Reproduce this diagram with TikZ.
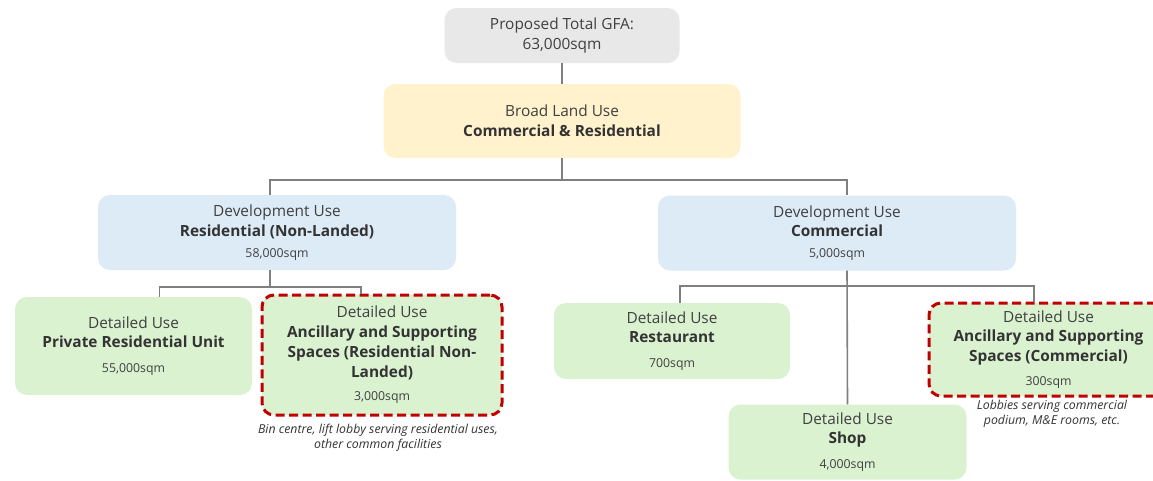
\documentclass[tikz,border=0pt]{standalone}
\usepackage{fontspec}
\setmainfont{Open Sans}
\usetikzlibrary{calc}
\definecolor{txt}{HTML}{404040}
\definecolor{boldtxt}{HTML}{333333}
\definecolor{gfagray}{HTML}{E8E8E8}
\definecolor{broadyellow}{HTML}{FFF2CC}
\definecolor{devblue}{HTML}{DDEBF7}
\definecolor{detgreen}{HTML}{DAF2D0}
\definecolor{linkgray}{HTML}{7F7F7F}
\definecolor{flagred}{HTML}{C00000}
\newcommand\amt[1]{{\fontsize{12.3}{15}\selectfont #1}}
\newcommand\hd[1]{{\bfseries\color{boldtxt}#1}}
\begin{document}
\begin{tikzpicture}[x=1pt,y=-1pt,
  box/.style={rounded corners=12pt, inner sep=0pt, align=center, text=txt,
    font=\fontsize{15.4}{19.8}\selectfont},
  flagged/.style={draw=flagred, line width=3pt, dash pattern=on 9pt off 4.5pt},
  link/.style={draw=linkgray, line width=1.6pt},
  note/.style={align=center, text=boldtxt, inner sep=0pt,
    font=\fontsize{12.3}{15}\selectfont\itshape}]
\clip (0,0) rectangle (1153,480);
\fill[white] (0,0) rectangle (1153,480);

% top levels
\node[box, fill=gfagray, minimum width=235pt, minimum height=55pt] (gfa)
  at (562,35.5) {Proposed Total GFA:\\63,000sqm};
\node[box, fill=broadyellow, minimum width=357pt, minimum height=74pt] (broad)
  at (562,121) {Broad Land Use\\\hd{Commercial \& Residential}};

% development uses
\node[box, fill=devblue, minimum width=358pt, minimum height=75pt] (devres)
  at (277,232.5) {Development Use\\\hd{Residential (Non-Landed)}\\[1pt]\amt{58,000sqm}};
\node[box, fill=devblue, minimum width=358pt, minimum height=75pt] (devcom)
  at (837,233) {Development Use\\\hd{Commercial}\\[1pt]\amt{5,000sqm}};

% detailed uses (residential)
\node[box, fill=detgreen, minimum width=237pt, minimum height=98pt] (private)
  at (133.5,346) {Detailed Use\\\hd{Private Residential Unit}\\[5pt]\amt{55,000sqm}};
\node[box, fill=detgreen, flagged, minimum width=240pt, minimum height=120pt] (ancres)
  at (382,355) {Detailed Use\\\hd{Ancillary and Supporting}\\\hd{Spaces (Residential Non-}\\\hd{Landed)}\\[4pt]\amt{3,000sqm}};

% detailed uses (commercial)
\node[box, fill=detgreen, minimum width=236pt, minimum height=76pt] (rest)
  at (672,341) {Detailed Use\\\hd{Restaurant}\\[5pt]\amt{700sqm}};
\node[box, fill=detgreen, minimum width=238pt, minimum height=75pt] (shop)
  at (847.5,442) {Detailed Use\\\hd{Shop}\\[5pt]\amt{4,000sqm}};
\node[box, fill=detgreen, flagged, minimum width=239pt, minimum height=93pt] (anccom)
  at (1048.5,349.5) {Detailed Use\\\hd{Ancillary and Supporting}\\\hd{Spaces (Commercial)}\\[4pt]\amt{300sqm}};

% notes
\node[note] (noteres) at (378,438)
  {Bin centre, lift lobby serving residential uses,\\other common facilities};
\node[note] (notecom) at (1052,414)
  {Lobbies serving commercial\\podium, M\&E rooms, etc.};

% connectors
\draw[link] (gfa.south) -- (broad.north);
\coordinate (split1) at ($(broad.south)+(0,22)$);
\draw[link] (broad.south) -- (split1);
\draw[link] ([xshift=-7pt]devres.north) |- (split1) -| ([xshift=10pt]devcom.north);

\coordinate (split2) at ($([xshift=-7pt]devres.south)+(0,17)$);
\draw[link] ([xshift=-7pt]devres.south) -- (split2);
\draw[link] ([xshift=26pt]private.north) |- (split2) -| ([xshift=-21pt]ancres.north);

\coordinate (split3) at ($([xshift=10pt]devcom.south)+(0,15)$);
\draw[link] ([xshift=10pt]devcom.south) -- (shop.north);
\draw[link] ([xshift=8pt]rest.north) |- (split3) -| ([xshift=-14.5pt]anccom.north);
\end{tikzpicture}
\end{document}
